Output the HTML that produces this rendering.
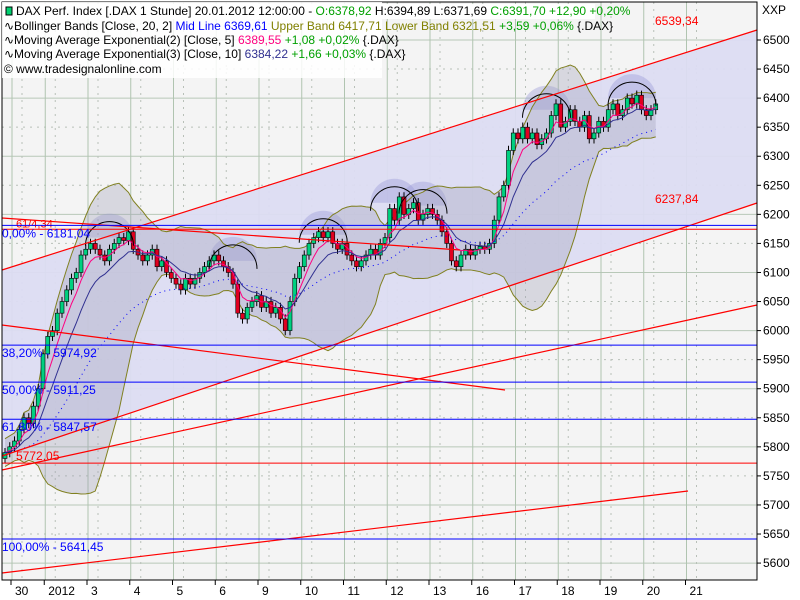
<!DOCTYPE html>
<html><head><meta charset="utf-8"><style>
html,body{margin:0;padding:0;background:#fff;}
svg{display:block;font-family:"Liberation Sans",sans-serif;}
</style></head><body>
<svg id="chart" width="800" height="600" viewBox="0 0 800 600">
<rect x="0" y="0" width="800" height="600" fill="#ffffff"/>
<rect x="2" y="2" width="755" height="578" fill="#f4f4f4"/>
<g id="grid"></g>
<g id="overlays"></g>
<g id="bands"></g>
<g id="candles"></g>
<g id="mas"></g>
<g id="lines2"></g>
<g id="yaxis"></g>
<g id="xaxis"></g>
<rect x="2" y="2" width="755" height="578" fill="none" stroke="#000" stroke-width="1"/>
<g id="legend" font-size="12">
<rect x="2" y="2" width="380" height="76" fill="#ffffff" opacity="0.85"/>
<rect x="3" y="4" width="592" height="15" fill="#ffffff"/>
<rect x="6" y="7" width="6" height="8" fill="#00d070" stroke="#000"/>
<text x="16" y="15"><tspan fill="#000">DAX Perf. Index [.DAX  1 Stunde] 20.01.2012 12:00:00 - </tspan><tspan fill="#00a000">O:6378,92</tspan><tspan fill="#000"> H:6394,89 L:6371,69 </tspan><tspan fill="#00a000">C:6391,70 +12,90 +0,20%</tspan></text>
<text x="4" y="30"><tspan fill="#000">∿Bollinger Bands [Close, 20, 2] </tspan><tspan fill="#0000ff">Mid Line 6369,61 </tspan><tspan fill="#808000">Upper Band 6417,71 Lower Band 6321,51 </tspan><tspan fill="#00a000">+3,59 +0,06%</tspan><tspan fill="#000"> {.DAX}</tspan></text>
<text x="4" y="44"><tspan fill="#000">∿Moving Average Exponential(2) [Close, 5] </tspan><tspan fill="#ff0080">6389,55 </tspan><tspan fill="#00a000">+1,08 +0,02%</tspan><tspan fill="#000"> {.DAX}</tspan></text>
<text x="4" y="58"><tspan fill="#000">∿Moving Average Exponential(3) [Close, 10] </tspan><tspan fill="#303090">6384,22 </tspan><tspan fill="#00a000">+1,66 +0,03%</tspan><tspan fill="#000"> {.DAX}</tspan></text>
<text x="4" y="73" fill="#000">© www.tradesignalonline.com</text>
</g>
<text x="762" y="14" font-size="12" fill="#000">XXP</text>
</svg>
<script>
const yTicks=[6500,6450,6400,6350,6300,6250,6200,6150,6100,6050,6000,5950,5900,5850,5800,5750,5700,5650,5600];
const dayLabels=["30","2012","3","4","5","6","9","10","11","12","13","16","17","18","19","20","21"];
const dayBarIdx=[0,7,16,25,34,43,52,61,70,79,88,97,106,115,124,133,142];
const closes=[5790,5800,5810,5830,5850,5840,5870,5900,5960,5990,
6000,6030,6050,6070,6090,6100,6130,6140,6150,6140,
6130,6120,6140,6150,6160,6155,6170,6140,6130,6120,
6130,6140,6110,6120,6100,6090,6080,6070,6090,6080,
6090,6100,6110,6120,6130,6120,6110,6100,6080,6030,
6020,6040,6050,6060,6040,6050,6030,6040,6020,6000,
6050,6090,6110,6130,6150,6160,6170,6160,6170,6150,
6140,6150,6130,6120,6110,6120,6130,6140,6130,6150,
6160,6210,6190,6230,6200,6210,6220,6190,6200,6210,
6200,6190,6170,6150,6120,6110,6130,6140,6130,6140,
6145,6140,6150,6190,6230,6250,6310,6340,6330,6350,
6330,6340,6320,6330,6340,6370,6390,6350,6360,6380,
6360,6350,6370,6330,6340,6360,6350,6380,6390,6370,
6380,6400,6390,6405,6380,6370,6380,6390];
const fibLevels=[6181.04,5974.92,5911.25,5847.57,5641.45];
const fibLabels=["0,00% - 6181,04","38,20% - 5974,92","50,00% - 5911,25","61,80% - 5847,57","100,00% - 5641,45"];
const hLevelRed=[5772.05];

const NS="http://www.w3.org/2000/svg";
const y=v=>40+(6500-v)/50*29.06;
const x=i=>5+i*4.75;
function mk(tag,attrs,parent){const e=document.createElementNS(NS,tag);for(const k in attrs)e.setAttribute(k,attrs[k]);document.getElementById(parent).appendChild(e);return e;}

// grid
yTicks.forEach((v,k)=>{
  const g=mk('line',{x1:2,x2:757,y1:y(v),y2:y(v),stroke:v%100===0?'#b8c8b8':'#b8c0b8','stroke-dasharray':v%100===0?'':'2,5'},'grid');
  
  
  const t=mk('line',{x1:757,x2:761,y1:y(v),y2:y(v),stroke:'#000'},'yaxis');
  
  
  const l=mk('text',{x:763,y:y(v)+4,'font-size':'12',fill:'#000'},'yaxis');
  l.textContent=v;
  
  
});
dayLabels.forEach((d,k)=>{
  const xx=x(dayBarIdx[k])+7;
  const g=mk('line',{x1:xx,x2:xx,y1:2,y2:580,stroke:'#b0c4b0'},'grid');
  
  
  const g2=mk('line',{x1:xx+10,x2:xx+10,y1:2,y2:580,stroke:'#b8c0b8','stroke-dasharray':'2,5'},'grid');
  
  
  const t=mk('line',{x1:xx-1,x2:xx-1,y1:580,y2:585,stroke:'#000'},'xaxis');
  
  
  const l=mk('text',{x:xx+3,y:595,'font-size':'12',fill:'#000'},'xaxis');
  l.textContent=d;
  
  
});

// channel fill
let ch=mk('polygon',{points:'2,270 757,30 757,203 2,456',fill:'#dcdcf2',opacity:'0.95'},'overlays');



// bollinger
const N=20,mid=[],up=[],lo=[];
closes.forEach((c,i)=>{const s=closes.slice(Math.max(0,i-N+1),i+1);const m=s.reduce((a,b)=>a+b,0)/s.length;const sd=Math.sqrt(s.reduce((a,b)=>a+(b-m)*(b-m),0)/s.length);mid.push(m);up.push(m+2*Math.max(sd,12));lo.push(m-2*Math.max(sd,12));});
let pu=up.map((v,i)=>x(i)+','+y(v)).join(' '),pl=lo.map((v,i)=>x(i)+','+y(v)).reverse().join(' ');
let bf=mk('polygon',{points:pu+' '+pl,fill:'#a0a0b8',opacity:'0.35'},'bands');


let bu=mk('polyline',{points:pu,fill:'none',stroke:'#808020'},'bands');


let bl=mk('polyline',{points:lo.map((v,i)=>x(i)+','+y(v)).join(' '),fill:'none',stroke:'#808020'},'bands');



// arcs
const arcBars=[22,48,67,82,88,114,132];
const arcPrices=[6160,6120,6165,6220,6215,6380,6400];
arcBars.forEach((b,k)=>{const cx=x(b),cy=y(arcPrices[k]),r=24;
  const a=mk('path',{d:`M${cx-r},${cy} A${r},${r} 0 0 1 ${cx+r},${cy} Z`,fill:'#9898d8',opacity:'0.4'},'overlays');
  
  
  const a2=mk('path',{d:`M${cx-r},${cy+8} A${r},${r} 0 0 1 ${cx+r},${cy+8}`,fill:'none',stroke:'#000'},'lines2');
  
  
});

// candles
closes.forEach((c,i)=>{const o=i?closes[i-1]:c-10;const hi=Math.max(o,c)+8,lw=Math.min(o,c)-8;const xx=x(i);
  const w=mk('line',{x1:xx,x2:xx,y1:y(hi),y2:y(lw),stroke:'#000'},'candles');
  
  
  const top=y(Math.max(o,c)),h=Math.max(1,Math.abs(y(o)-y(c)));
  const r=mk('rect',{x:xx-2,y:top,width:4,height:h,fill:c>=o?'#00d080':'#e00020',stroke:'#000','stroke-width':'0.6'},'candles');
  
  
});

// EMAs
function ema(p){const k=2/(p+1);let e=closes[0];return closes.map(c=>e=c*k+e*(1-k));}
[[5,'#ff0080',''],[10,'#303090',''],[30,'#0000ff','1,4']].forEach(([p,col,da])=>{
  const l=mk('polyline',{points:ema(p).map((v,i)=>x(i)+','+y(v)).join(' '),fill:'none',stroke:col,'stroke-dasharray':da},'mas');
  
  
});

// red lines
[[2,270,757,30],[2,456,757,203],[2,325,505,390],[2,470,757,305],[2,573,688,491],[2,218,460,250]].forEach(s=>{
  const l=mk('line',{x1:s[0],y1:s[1],x2:s[2],y2:s[3],stroke:'#ff0000','stroke-width':'1.2'},'lines2');
  
  
});
hLevelRed.forEach(v=>{
  const l=mk('line',{x1:2,x2:757,y1:y(v),y2:y(v),stroke:'#ff0000'},'lines2');
  
  
  const t=mk('text',{x:16,y:y(v)-3,'font-size':'12',fill:'#ff0000'},'lines2');
  t.textContent='5772,05';
  
  
});
let hl=mk('line',{x1:2,x2:757,y1:y(6174.34),y2:y(6174.34),stroke:'#ff0000'},'lines2');


let ht=mk('text',{x:16,y:y(6174.34)-2,'font-size':'11',fill:'#ff0000'},'lines2');
ht.textContent='61/4,34';


fibLevels.forEach((v,k)=>{
  const l=mk('line',{x1:2,x2:757,y1:y(v),y2:y(v),stroke:'#0000ff'},'lines2');
  
  
  const t=mk('text',{x:2,y:y(v)+12,'font-size':'12',fill:'#0000ff'},'lines2');
  t.textContent=fibLabels[k];
  
  
});
[['6539,34',25],['6237,84',203]].forEach(([s,yy])=>{
  const t=mk('text',{x:655,y:yy,'font-size':'12',fill:'#ff0000'},'lines2');
  t.textContent=s;
  
  
});
</script>
</body></html>
